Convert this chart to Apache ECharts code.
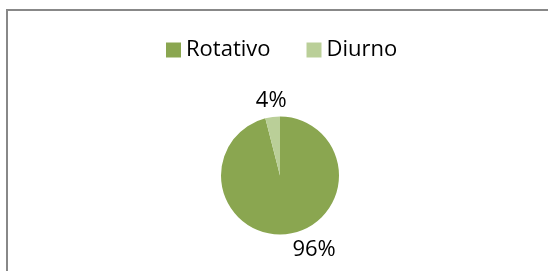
<!DOCTYPE html>
<html>
<head>
<meta charset="utf-8">
<script src="https://cdn.jsdelivr.net/npm/echarts@6/dist/echarts.min.js"></script>
<style>
  html, body { margin: 0; padding: 0; background: #fff; }
  #chart { width: 548px; height: 271px; }
</style>
</head>
<body>
<div id="chart"></div>
<script>
const categories = ['Rotativo', 'Diurno']
const values = [96, 4]
const colors = ['#8AA650', '#BACF98']

// per-slice label offsets (Excel puts the labels a bit off the mid angle)
const lineLength = [16, 16]
const lineLength2 = [-2, -21]

const chart = echarts.init(document.getElementById('chart'))

const option = {
  animation: false,
  textStyle: { fontFamily: 'Open Sans' },
  graphic: [
    {
      type: 'rect',
      shape: { x: 7, y: 10, width: 600, height: 300 },
      style: { fill: 'none', stroke: '#888888', lineWidth: 2 }
    }
  ],
  legend: {
    left: 166,
    top: 39,
    padding: 0,
    icon: 'rect',
    itemWidth: 15,
    itemHeight: 15,
    itemGap: 36,
    textStyle: { fontSize: 22, color: '#000' },
    data: categories
  },
  series: [
    {
      type: 'pie',
      center: [280, 175.5],
      radius: 59,
      startAngle: 90,
      clockwise: true,
      avoidLabelOverlap: false,
      label: {
        show: true,
        position: 'outside',
        formatter: '{d}%',
        fontSize: 22,
        color: '#000'
      },
      labelLine: { show: false },
      emphasis: { disabled: true },
      data: categories.map((name, i) => ({
        name: name,
        value: values[i],
        itemStyle: { color: colors[i] },
        labelLine: { show: false, length: lineLength[i], length2: lineLength2[i] }
      }))
    }
  ]
}

chart.setOption(option)
</script>
</body>
</html>
